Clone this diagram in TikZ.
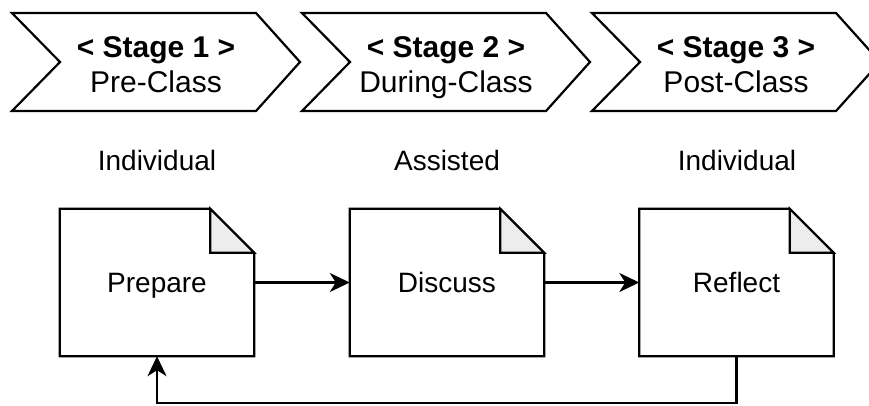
\documentclass[tikz,border=0pt]{standalone}
\usepackage{fontspec}
\setmainfont{Liberation Sans}
\usetikzlibrary{arrows.meta}
\definecolor{foldgray}{HTML}{EDEDED}
\begin{document}
\begin{tikzpicture}[x=1pt,y=-1pt,
  line/.style={draw=black,line width=2.2pt,line join=miter},
  chevtext/.style={inner sep=0pt,anchor=base,font=\fontsize{30}{35}\selectfont},
  lbl/.style={inner sep=0pt,anchor=base,font=\fontsize{28}{34}\selectfont},
  doc/.style={minimum width=194pt,minimum height=147pt,inner sep=0pt,
    text height=20pt,text depth=0pt,font=\fontsize{28}{34}\selectfont},
  arr/.style={line,-{Stealth[length=20pt,width=19pt,inset=6pt]}}
]
\useasboundingbox (0,0) rectangle (869,405);
\clip (0,0) rectangle (869,405);
\fill[white] (0,0) rectangle (869,405);

% chevrons
\foreach \L in {12,302,592}{
  \filldraw[line,fill=white] (\L,13) -- (\L+244,13) -- (\L+288,62) -- (\L+244,111)
     -- (\L,111) -- (\L+48,62) -- cycle;
}
\node[chevtext] (s1) at (156,57) {\textbf{< Stage 1 >}};
\node[chevtext] (c1) at (156,92) {Pre-Class};
\node[chevtext] (s2) at (446,57) {\textbf{< Stage 2 >}};
\node[chevtext] (c2) at (446,92) {During-Class};
\node[chevtext] (s3) at (736,57) {\textbf{< Stage 3 >}};
\node[chevtext] (c3) at (736,92) {Post-Class};

% labels
\node[lbl] (l1) at (157,170) {Individual};
\node[lbl] (l2) at (447,170) {Assisted};
\node[lbl] (l3) at (737,170) {Individual};

% documents
\newcommand\docshape[1]{%
  \filldraw[line,fill=white] (#1.north west) -- ([xshift=-44pt]#1.north east)
    -- ([yshift=-44pt]#1.north east) -- (#1.south east) -- (#1.south west) -- cycle;
  \filldraw[line,fill=foldgray] ([xshift=-44pt]#1.north east)
    -- ([xshift=-44pt,yshift=-44pt]#1.north east) -- ([yshift=-44pt]#1.north east) -- cycle;
}
\node[doc] (prep) at (157,282.5) {};
\node[doc] (disc) at (447,282.5) {};
\node[doc] (refl) at (736.5,282.5) {};
\docshape{prep}\docshape{disc}\docshape{refl}
\node[doc] at (prep) {Prepare};
\node[doc] at (disc) {Discuss};
\node[doc] at (refl) {Reflect};

% connectors
\draw[arr] (prep.east) -- (disc.west);
\draw[arr] (disc.east) -- (refl.west);
\coordinate (fb) at (736.5,403);
\draw[arr] (refl.south) -- (fb) -| (prep.south);
\end{tikzpicture}
\end{document}
